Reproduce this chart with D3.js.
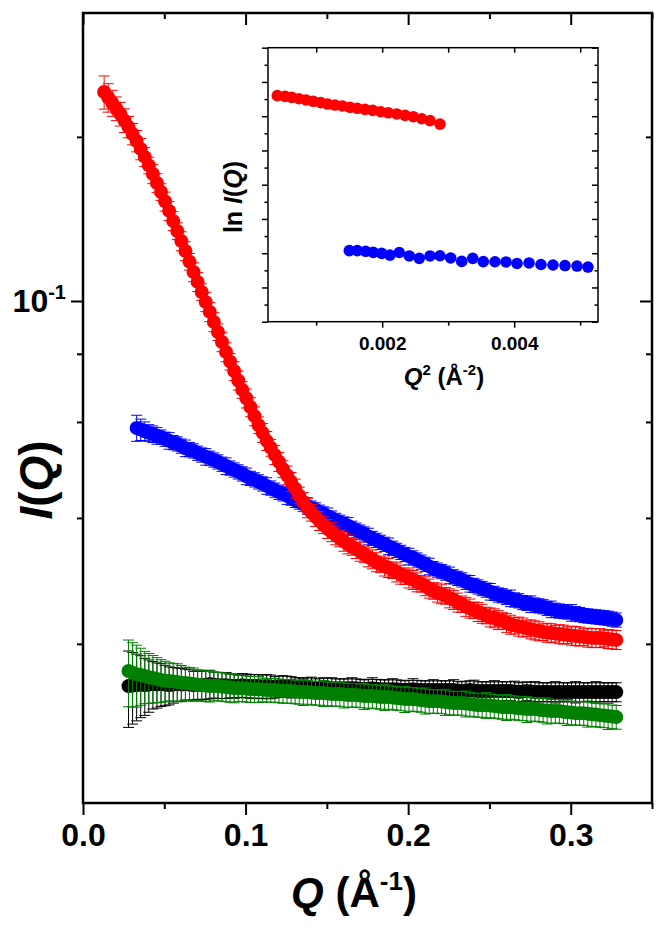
<!DOCTYPE html>
<html>
<head>
<meta charset="utf-8">
<script src="https://cdnjs.cloudflare.com/ajax/libs/d3/7.8.5/d3.min.js"></script>
<style>
  body { margin: 0; background: #fff; }
  text { font-family: "Liberation Sans", Arial, Helvetica, sans-serif; font-weight: bold; fill: #000; }
</style>
</head>
<body>
<div id="chart"></div>
<script>
// Q values of the main plot (A^-1)
const qMain = [0.013,0.0155,0.018,0.0205,0.023,0.0255,0.028,0.0305,0.033,0.0355,
  0.038,0.0405,0.043,0.0455,0.048,0.0505,0.053,0.0555,0.058,0.0605,
  0.063,0.0655,0.068,0.0705,0.073,0.0755,0.078,0.0805,0.083,0.0855,
  0.088,0.0905,0.093,0.0955,0.098,0.1005,0.103,0.1055,0.108,0.1105,
  0.113,0.1155,0.118,0.1205,0.123,0.1255,0.128,0.1305,0.133,0.1355,
  0.138,0.1405,0.143,0.1455,0.148,0.1505,0.153,0.1555,0.158,0.1605,
  0.163,0.1655,0.168,0.1705,0.173,0.1755,0.178,0.1805,0.183,0.1855,
  0.188,0.1905,0.193,0.1955,0.198,0.2005,0.203,0.2055,0.208,0.2105,
  0.213,0.2155,0.218,0.2205,0.223,0.2255,0.228,0.2305,0.233,0.2355,
  0.238,0.2405,0.243,0.2455,0.248,0.2505,0.253,0.2555,0.258,0.2605,
  0.263,0.2655,0.268,0.2705,0.273,0.2755,0.278,0.2805,0.283,0.2855,
  0.288,0.2905,0.293,0.2955,0.298,0.3005,0.303,0.3055,0.308,0.3105,
  0.313,0.3155,0.318,0.3205,0.323,0.3255,0.328];

// I(Q) of each sample, null where the sample has no point
const redI = [0.2418,0.2362,0.2308,0.2255,0.2204,0.2144,0.2086,0.2025,0.1966,0.1901,
  0.1838,0.1773,0.1710,0.1646,0.1585,0.1523,0.1463,0.1402,0.1344,0.1288,
  0.1235,0.1181,0.1130,0.1084,0.1039,0.0996,0.0955,0.0915,0.0877,0.0841,
  0.0806,0.0774,0.0744,0.0715,0.0687,0.0663,0.0639,0.0615,0.0592,0.0573,
  0.0554,0.0538,0.0522,0.0507,0.0492,0.0479,0.0466,0.0453,0.0440,0.0428,
  0.0417,0.0409,0.0402,0.0395,0.0388,0.0382,0.0377,0.0372,0.0367,0.0362,
  0.0358,0.0354,0.0351,0.0347,0.0343,0.0339,0.0336,0.0332,0.0329,0.0326,
  0.0324,0.0321,0.0318,0.0315,0.0313,0.0310,0.0308,0.0305,0.0303,0.0300,
  0.0297,0.0294,0.0292,0.0290,0.0288,0.0285,0.0283,0.0280,0.0278,0.0275,
  0.0273,0.0271,0.0269,0.0267,0.0265,0.0263,0.0262,0.0260,0.0259,0.0257,
  0.0255,0.0254,0.0253,0.0252,0.0251,0.0250,0.0249,0.0248,0.0247,0.02465,
  0.0246,0.02455,0.0245,0.02445,0.0244,0.02435,0.0243,0.02425,0.0242,0.02415,
  0.0241,0.0241,0.0241,0.02405,0.0240,0.02395,0.0239];
const blueI = [null,null,null,null,null,null,null,null,
  0.0585,0.0581,0.0577,0.0573,0.0570,0.0566,0.0563,0.0558,0.0554,0.0550,
  0.0547,0.0542,0.0537,0.0534,0.0531,0.0526,0.0522,0.0518,0.0515,0.0511,
  0.0507,0.0502,0.0498,0.0494,0.0490,0.0486,0.0482,0.0477,0.0473,0.0470,
  0.0466,0.0462,0.0458,0.0454,0.0450,0.0446,0.0443,0.0439,0.0435,0.0431,
  0.0428,0.0424,0.0421,0.0417,0.0414,0.0410,0.0407,0.0403,0.0400,0.0396,
  0.0393,0.0390,0.0387,0.0383,0.0380,0.0377,0.0374,0.0370,0.0367,0.0364,
  0.0361,0.0358,0.0355,0.0352,0.0349,0.0346,0.0343,0.0340,0.0338,0.0335,
  0.0332,0.0329,0.0326,0.0323,0.0321,0.0319,0.0317,0.0314,0.0312,0.0310,
  0.0308,0.0305,0.0303,0.0301,0.0299,0.0297,0.0295,0.0293,0.0291,0.0289,
  0.0288,0.0286,0.0285,0.0283,0.0282,0.0280,0.0279,0.0278,0.0277,0.0276,
  0.0275,0.0273,0.0272,0.0271,0.0270,0.02695,0.0269,0.0268,0.0267,0.0266,
  0.0265,0.02645,0.0264,0.02635,0.0263,0.02625,0.0262,0.0261,0.0260];
const blackI = [null,null,null,null,null,null,
  0.01966,0.01970,0.01974,0.01978,0.01974,0.01978,0.01983,0.01980,0.01983,0.01978,
  0.01974,0.01978,0.01983,0.01980,0.01983,0.01978,0.01974,0.01978,0.01974,0.01978,
  0.01983,0.01978,0.01974,0.01974,0.01974,0.01970,0.01966,0.01970,0.01974,0.01970,
  0.01966,0.01966,0.01966,0.01962,0.01966,0.01962,0.01958,0.01962,0.01966,0.01962,
  0.01958,0.01958,0.01958,0.01954,0.01958,0.01954,0.01949,0.01954,0.01958,0.01954,
  0.01949,0.01949,0.01949,0.01949,0.01949,0.01949,0.01949,0.01945,0.01941,0.01945,
  0.01949,0.01945,0.01941,0.01941,0.01941,0.01941,0.01941,0.01937,0.01933,0.01937,
  0.01941,0.01937,0.01933,0.01933,0.01933,0.01933,0.01933,0.01933,0.01933,0.01933,
  0.01933,0.01929,0.01925,0.01929,0.01933,0.01929,0.01925,0.01925,0.01925,0.01925,
  0.01925,0.01925,0.01925,0.01925,0.01925,0.01921,0.01917,0.01921,0.01925,0.01921,
  0.01917,0.01917,0.01917,0.01917,0.01917,0.01917,0.01917,0.01917,0.01917,0.01917,
  0.01917,0.01917,0.01917,0.01917,0.01917,0.01917,0.01917,0.01917,0.01917,0.01917,
  0.01917];
const greenI = [null,null,null,null,null,null,
  0.02095,0.02081,0.02068,0.02060,0.02051,0.02042,0.02034,0.02025,0.02017,0.02012,
  0.02008,0.02004,0.02000,0.01995,0.01991,0.01987,0.01983,0.01978,0.01974,0.01970,
  0.01966,0.01966,0.01966,0.01962,0.01958,0.01954,0.01949,0.01949,0.01949,0.01945,
  0.01941,0.01941,0.01941,0.01937,0.01933,0.01933,0.01933,0.01929,0.01925,0.01925,
  0.01925,0.01921,0.01917,0.01917,0.01917,0.01913,0.01909,0.01909,0.01909,0.01905,
  0.01901,0.01901,0.01901,0.01897,0.01893,0.01893,0.01893,0.01889,0.01885,0.01885,
  0.01885,0.01881,0.01877,0.01877,0.01877,0.01873,0.01869,0.01865,0.01861,0.01861,
  0.01861,0.01857,0.01853,0.01849,0.01845,0.01845,0.01845,0.01842,0.01838,0.01834,
  0.01830,0.01830,0.01830,0.01826,0.01822,0.01818,0.01814,0.01814,0.01814,0.01811,
  0.01807,0.01803,0.01799,0.01799,0.01799,0.01795,0.01791,0.01788,0.01784,0.01784,
  0.01784,0.01780,0.01776,0.01773,0.01769,0.01769,0.01769,0.01765,0.01761,0.01758,
  0.01754,0.01754,0.01754,0.01750,0.01746,0.01743,0.01739,0.01736,0.01732,0.01729,
  0.01725];

// error bars, percent of I
const redErr = [7,6,5.5,5,5,5,4.5,4.5,4.5,4.5,
  4,3.5,4,4,3.5,4,4,4,3.5,4, 4,3.5,4,4,3.5,4,4,4,3.5,4,
  4,3.5,4,4,3.5,4,4,4,3.5,4, 4,3.5,4,4,3.5,4,4,4,3.5,4,
  4,3.5,4,4,3.5,4,4,4,3.5,4, 4,3.5,4,4,3.5,4,4,4,3.5,4,
  4,3.5,4,4,3.5,4,4,4,3.5,4, 4,3.5,4,4,3.5,4,4,4,3.5,4,
  4,3.5,4,4,3.5,4,4,4,3.5,4, 4,3.5,4,4,3.5,4,4,4,3.5,4,
  4,3.5,4,4,3.5,4,4,4,3.5,4,
  4,4,4,3.5,4,4,4];
const blueErr = [null,null,null,null,null,null,null,null,
  5.5,4.5,4,3.5,3.5,3.5,3,3,3.5,3,
  3,3,3.5,3,3,3,3,3.5,3,3, 3,3,3.5,3,3,3,3,3.5,3,3,
  3,3,3.5,3,3,3,3,3.5,3,3, 3,3,3.5,3,3,3,3,3.5,3,3,
  3,3,3.5,3,3,3,3,3.5,3,3, 3,3,3.5,3,3,3,3,3.5,3,3,
  3,3,3.5,3,3,3,3,3.5,3,3, 3,3,3.5,3,3,3,3,3.5,3,3,
  3,3,3.5,3,3,3,3,3.5,3,3, 3,3,3.5,3,3,3,3,3.5,3,3,
  3,3,3,3,3,3,3,3,3];
const blackErr = [null,null,null,null,null,null,
  16,15,14,13,12,11,10,9.5,9,8.5,
  8,7.5,7,7,6.5,6.5,6,6,6,6,
  6,5.5,5.5,5.5,5.5,5,5,5,5,5,
  5,5,5,5,5,5,4.5,4.5,4.5,4.5,
  4.5,4,4,4,4,4.5,4,4,4,4, 4.5,4,4,4,4,4.5,4,4,4,4,
  4.5,4,4,4,4,4.5,4,4,4,4, 4.5,4,4,4,4,4.5,4,4,4,4,
  4.5,4,4,4,4,4.5,4,4,4,4, 4.5,4,4,4,4,4.5,4,4,4,4,
  4.5,4,4,4,4,4.5,4,4,4,4, 4.5,4,4,4,4,4.5,4,4,4,4,
  4];
const greenErr = [null,null,null,null,null,null,
  14,13.5,13,12,11,10.5,10,9.5,9,8.5,
  8,8,8,7.5,7,7,7,6.5,6.5,6.5,
  6.5,6,6,6,6,6,6,5.5,5.5,5.5,
  5.5,5.5,5.5,5,5,5,5,5,5,5,
  5,5,5,5.5,5,5,5,5,5.5,5, 5,5,5,5.5,5,5,5,5,5.5,5,
  5,5,5,5.5,5,5,5,5,5.5,5, 5,5,5,5.5,5,5,5,5,5.5,5,
  5,5,5,5.5,5,5,5,5,5.5,5, 5,5,5,5.5,5,5,5,5,5.5,5,
  5,5,5,5.5,5,5,5,5,5.5,5, 5,5,5,5.5,5,5,5,5,5.5,5,
  5];

// inset: ln I versus Q^2
const insetRedQ2 = [0.000411,0.000528,0.000629,0.000740,0.000846,0.000956,0.001068,0.001175,
  0.001285,0.001396,0.001512,0.001623,0.001740,0.001856,0.001978,0.002093,0.002220,
  0.002346,0.002472,0.002599,0.002725,0.002876];
const insetRedLn = [-1.880,-1.884,-1.890,-1.898,-1.905,-1.913,-1.921,-1.929,
  -1.935,-1.940,-1.948,-1.954,-1.960,-1.966,-1.974,-1.980,-1.987,
  -1.995,-2.003,-2.015,-2.026,-2.046];
const insetBlueQ2 = [0.001502,0.001623,0.001750,0.001865,0.001993,0.002118,0.002259,0.002411,
  0.002562,0.002725,0.002876,0.003038,0.003205,0.003372,0.003532,0.003709,
  0.003876,0.004043,0.004225,0.004406,0.004588,0.004770,0.004952,0.005118];
const insetBlueLn = [-2.785,-2.785,-2.789,-2.795,-2.801,-2.811,-2.796,-2.816,
  -2.830,-2.816,-2.815,-2.828,-2.848,-2.830,-2.849,-2.850,
  -2.851,-2.860,-2.857,-2.866,-2.869,-2.872,-2.875,-2.881];

const xTicks = [0, 0.05, 0.1, 0.15, 0.2, 0.25, 0.3, 0.35];
const xLabels = [0, 0.1, 0.2, 0.3];
const yMinorTicks = [0.2, 0.08, 0.06, 0.04, 0.0235];

const W = 666, H = 934;
const svg = d3.select("#chart").append("svg").attr("width", W).attr("height", H);

// Main plot
const x = d3.scaleLinear().domain([0, 0.35]).range([83, 652]);
const y = d3.scaleLog().domain([0.012, 0.3375]).range([803, 13]);

const series = [
  { color: "#000000", I: blackI, err: blackErr },
  { color: "#008000", I: greenI, err: greenErr },
  { color: "#0000ff", I: blueI, err: blueErr },
  { color: "#ff0000", I: redI, err: redErr }
];

series.forEach(s => {
  const pts = qMain.map((q, i) => ({ q, v: s.I[i], e: s.err[i] }))
    .filter(d => d.v != null && d.e != null);
  const g = svg.append("g");
  const bars = g.selectAll("g.eb").data(pts).enter().append("g")
    .attr("stroke", s.color).attr("stroke-width", 1);
  bars.append("line")
    .attr("x1", d => x(d.q)).attr("x2", d => x(d.q))
    .attr("y1", d => y(d.v * (1 + d.e / 100))).attr("y2", d => y(d.v * (1 - d.e / 100)));
  [1, -1].forEach(sg => {
    bars.append("line")
      .attr("x1", d => x(d.q) - 5.5).attr("x2", d => x(d.q) + 5.5)
      .attr("y1", d => y(d.v * (1 + sg * d.e / 100)))
      .attr("y2", d => y(d.v * (1 + sg * d.e / 100)));
  });
  g.selectAll("circle").data(pts).enter().append("circle")
    .attr("cx", d => x(d.q)).attr("cy", d => y(d.v)).attr("r", 7)
    .attr("fill", s.color);
});

// axes of main plot
function styleAxis(sel) {
  sel.select(".domain").remove();
  sel.selectAll(".tick line").attr("stroke", "#000").attr("stroke-width", 2);
}
const xMajor = d => xLabels.some(v => Math.abs(v - d) < 1e-9);

const gx = svg.append("g").attr("transform", "translate(0,803)")
  .call(d3.axisBottom(x).tickValues(xTicks).tickSize(12).tickFormat(""));
styleAxis(gx);
gx.selectAll(".tick line").attr("y2", d => xMajor(d) ? 12 : 6);
gx.selectAll(".tick").filter(xMajor).append("text")
  .attr("y", 43).attr("text-anchor", "middle").attr("font-size", 32)
  .text(d => d3.format(".1f")(d));

const gxt = svg.append("g").attr("transform", "translate(0,13)")
  .call(d3.axisBottom(x).tickValues(xTicks).tickSize(12).tickFormat(""));
styleAxis(gxt);
gxt.selectAll(".tick line").attr("y2", d => xMajor(d) ? 12 : 6);

const gy = svg.append("g").attr("transform", "translate(83,0)")
  .call(d3.axisLeft(y).tickValues([0.1].concat(yMinorTicks)).tickSize(12).tickFormat(""));
styleAxis(gy);
gy.selectAll(".tick line").attr("x2", d => d === 0.1 ? -12 : -6);

const gyr = svg.append("g").attr("transform", "translate(652,0)")
  .call(d3.axisLeft(y).tickValues([0.1].concat(yMinorTicks)).tickSize(12).tickFormat(""));
styleAxis(gyr);
gyr.selectAll(".tick line").attr("x2", d => d === 0.1 ? -12 : -6);

svg.append("rect").attr("x", 83).attr("y", 13).attr("width", 569).attr("height", 790)
  .attr("fill", "none").attr("stroke", "#000").attr("stroke-width", 2.5);

const lab = svg.append("text").attr("x", 66).attr("y", y(0.1) + 11)
  .attr("text-anchor", "end").attr("font-size", 32);
lab.append("tspan").text("10");
lab.append("tspan").attr("font-size", 20).attr("dy", -13).text("-1");

const yt = svg.append("text")
  .attr("transform", "translate(52,480) rotate(-90)")
  .attr("text-anchor", "middle").attr("font-size", 46);
yt.append("tspan").attr("font-style", "italic").text("I");
yt.append("tspan").text("(");
yt.append("tspan").attr("font-style", "italic").text("Q");
yt.append("tspan").text(")");

const xt = svg.append("text").attr("x", 354).attr("y", 907)
  .attr("text-anchor", "middle").attr("font-size", 42);
xt.append("tspan").attr("font-style", "italic").text("Q");
xt.append("tspan").text(" (\u00C5");
xt.append("tspan").attr("font-size", 26).attr("dy", -17).text("-1");
xt.append("tspan").attr("dy", 17).text(")");

// Inset
const xi = d3.scaleLinear().domain([0.00027, 0.00527]).range([268, 598]);
const yi = d3.scaleLinear().domain([-3.2, -1.6]).range([321.7, 47.7]);

svg.append("rect").attr("x", 268).attr("y", 47.7).attr("width", 330).attr("height", 274)
  .attr("fill", "#fff");

const insetSeries = [
  { color: "#ff0000", q2: insetRedQ2, ln: insetRedLn },
  { color: "#0000ff", q2: insetBlueQ2, ln: insetBlueLn }
];
insetSeries.forEach(s => {
  svg.append("g").selectAll("circle").data(s.q2.map((q, i) => [q, s.ln[i]])).enter()
    .append("circle").attr("cx", d => xi(d[0])).attr("cy", d => yi(d[1]))
    .attr("r", 5.8).attr("fill", s.color);
});

const xiTicks = [0.001, 0.002, 0.003, 0.004, 0.005];
const xiMajor = d => Math.abs(d - 0.002) < 1e-9 || Math.abs(d - 0.004) < 1e-9;
const gxi = svg.append("g").attr("transform", "translate(0,321.7)")
  .call(d3.axisBottom(xi).tickValues(xiTicks).tickSize(6).tickFormat(""));
styleAxis(gxi);
gxi.selectAll(".tick line").attr("stroke-width", 1.5).attr("y2", d => xiMajor(d) ? 6 : 4);
gxi.selectAll(".tick").filter(xiMajor).append("text")
  .attr("y", 28).attr("text-anchor", "middle").attr("font-size", 19)
  .text(d => d3.format(".3f")(d));

const gxit = svg.append("g").attr("transform", "translate(0,47.7)")
  .call(d3.axisBottom(xi).tickValues(xiTicks).tickSize(5).tickFormat(""));
styleAxis(gxit);
gxit.selectAll(".tick line").attr("stroke-width", 1.5);

const yiTicks = d3.range(17).map(i => -3.2 + i * 0.1);
const yiMajor = (d, i) => i % 2 === 0;
const gyi = svg.append("g").attr("transform", "translate(268,0)")
  .call(d3.axisLeft(yi).tickValues(yiTicks).tickSize(6).tickFormat(""));
styleAxis(gyi);
gyi.selectAll(".tick line").attr("stroke-width", 1.5).attr("x2", (d, i) => yiMajor(d, i) ? -6 : -3.5);

const gyir = svg.append("g").attr("transform", "translate(598,0)")
  .call(d3.axisLeft(yi).tickValues(yiTicks).tickSize(6).tickFormat(""));
styleAxis(gyir);
gyir.selectAll(".tick line").attr("stroke-width", 1.5).attr("x2", (d, i) => yiMajor(d, i) ? -6 : -3.5);

svg.append("rect").attr("x", 268).attr("y", 47.7).attr("width", 330).attr("height", 274)
  .attr("fill", "none").attr("stroke", "#000").attr("stroke-width", 1.5);

const xit = svg.append("text").attr("x", 444).attr("y", 385)
  .attr("text-anchor", "middle").attr("font-size", 24);
xit.append("tspan").attr("font-style", "italic").text("Q");
xit.append("tspan").attr("font-size", 15).attr("dy", -10).text("2");
xit.append("tspan").attr("dy", 10).text(" (\u00C5");
xit.append("tspan").attr("font-size", 15).attr("dy", -10).text("-2");
xit.append("tspan").attr("dy", 10).text(")");

const yit = svg.append("text")
  .attr("transform", "translate(242,197) rotate(-90)")
  .attr("text-anchor", "middle").attr("font-size", 25);
yit.append("tspan").text("ln ");
yit.append("tspan").attr("font-style", "italic").text("I");
yit.append("tspan").text("(");
yit.append("tspan").attr("font-style", "italic").text("Q");
yit.append("tspan").text(")");
</script>
</body>
</html>
